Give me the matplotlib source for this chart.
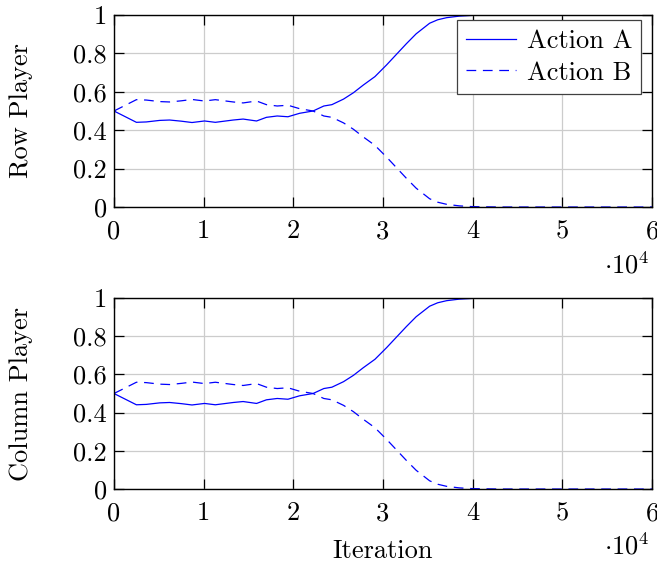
import matplotlib
matplotlib.use('Agg')
import matplotlib.pyplot as plt
from matplotlib.ticker import FuncFormatter

# iterations and the mixed-strategy probabilities
iters = [0, 2500, 3600, 5100, 6200, 7500, 8700, 10100, 11300, 13300, 14400,
         15900, 17000, 18200, 19400, 20700, 22200, 23400, 24300, 25600, 26700,
         27800, 29100, 30400, 31100, 31900, 32600, 33700, 35200, 36100, 37100,
         38500, 40000, 43000, 60000]
row_a = [0.500, 0.441, 0.443, 0.451, 0.453, 0.447, 0.440, 0.448, 0.441, 0.453, 0.458,
         0.448, 0.467, 0.474, 0.470, 0.488, 0.500, 0.526, 0.533, 0.562, 0.595,
         0.635, 0.679, 0.740, 0.775, 0.815, 0.850, 0.902, 0.957, 0.975, 0.986,
         0.994, 0.998, 1.000, 1.000]
row_b = [0.500, 0.559, 0.557, 0.549, 0.547, 0.553, 0.560, 0.552, 0.559, 0.547, 0.542,
         0.552, 0.533, 0.526, 0.530, 0.512, 0.500, 0.474, 0.467, 0.438, 0.405,
         0.365, 0.321, 0.260, 0.225, 0.185, 0.150, 0.098, 0.043, 0.025, 0.014,
         0.006, 0.002, 0.000, 0.000]
col_a = row_a
col_b = row_b

yticks = [0, 0.2, 0.4, 0.6, 0.8, 1]
xticks = [0, 10000, 20000, 30000, 40000, 50000, 60000]

plt.rcParams['font.family'] = ['cmr10', 'DejaVu Serif']
plt.rcParams['mathtext.fontset'] = 'cm'
plt.rcParams['axes.unicode_minus'] = False
plt.rcParams['axes.formatter.use_mathtext'] = True
plt.rcParams['font.size'] = 19
plt.rcParams['lines.scale_dashes'] = False

fig = plt.figure(figsize=(6.57, 5.63), dpi=100)
ax1 = fig.add_axes([0.1735, 0.6323, 0.8189, 0.3411])
ax2 = fig.add_axes([0.1735, 0.1314, 0.8189, 0.3393])

def fmt_y(v, pos):
    return '%g' % v

def fmt_x(v, pos):
    return '%g' % (v / 1e4)

for ax, a, b, lab in [(ax1, row_a, row_b, 'Row Player'), (ax2, col_a, col_b, 'Column Player')]:
    ax.plot(iters, a, color='#0000ff', lw=0.9, label='Action A')
    ax.plot(iters, b, color='#0000ff', lw=0.9, dashes=(7, 4.8), label='Action B')
    ax.set_xlim(0, 60000)
    ax.set_ylim(0, 1)
    ax.set_xticks(xticks)
    ax.set_yticks(yticks)
    ax.xaxis.set_major_formatter(FuncFormatter(fmt_x))
    ax.yaxis.set_major_formatter(FuncFormatter(fmt_y))
    ax.grid(True, color='#cccccc', lw=0.9)
    ax.set_axisbelow(True)
    ax.tick_params(direction='in', length=7, width=0.9, top=True, right=True,
                   labelsize=19)
    ax.tick_params(axis='x', pad=9)
    ax.tick_params(axis='y', pad=5)
    for s in ax.spines.values():
        s.set_linewidth(1.0)
    ax.set_ylabel(lab, fontsize=19)
    ax.yaxis.set_label_coords(-0.151, 0.5)
    ax.text(0.995, -0.345, r'$\cdot 10^4$', transform=ax.transAxes, ha='right',
            va='baseline', fontsize=19)

ax2.set_xlabel('Iteration', fontsize=19, labelpad=10)

leg = ax1.legend(loc='upper right', fancybox=False, framealpha=1, edgecolor='#404040',
                 fontsize=19, handlelength=1.9, handletextpad=0.4, borderpad=0.35,
                 borderaxespad=0, labelspacing=0.3, bbox_to_anchor=(0.98, 0.974))
leg.get_frame().set_linewidth(0.9)

fig.savefig('out.png', dpi=100)
